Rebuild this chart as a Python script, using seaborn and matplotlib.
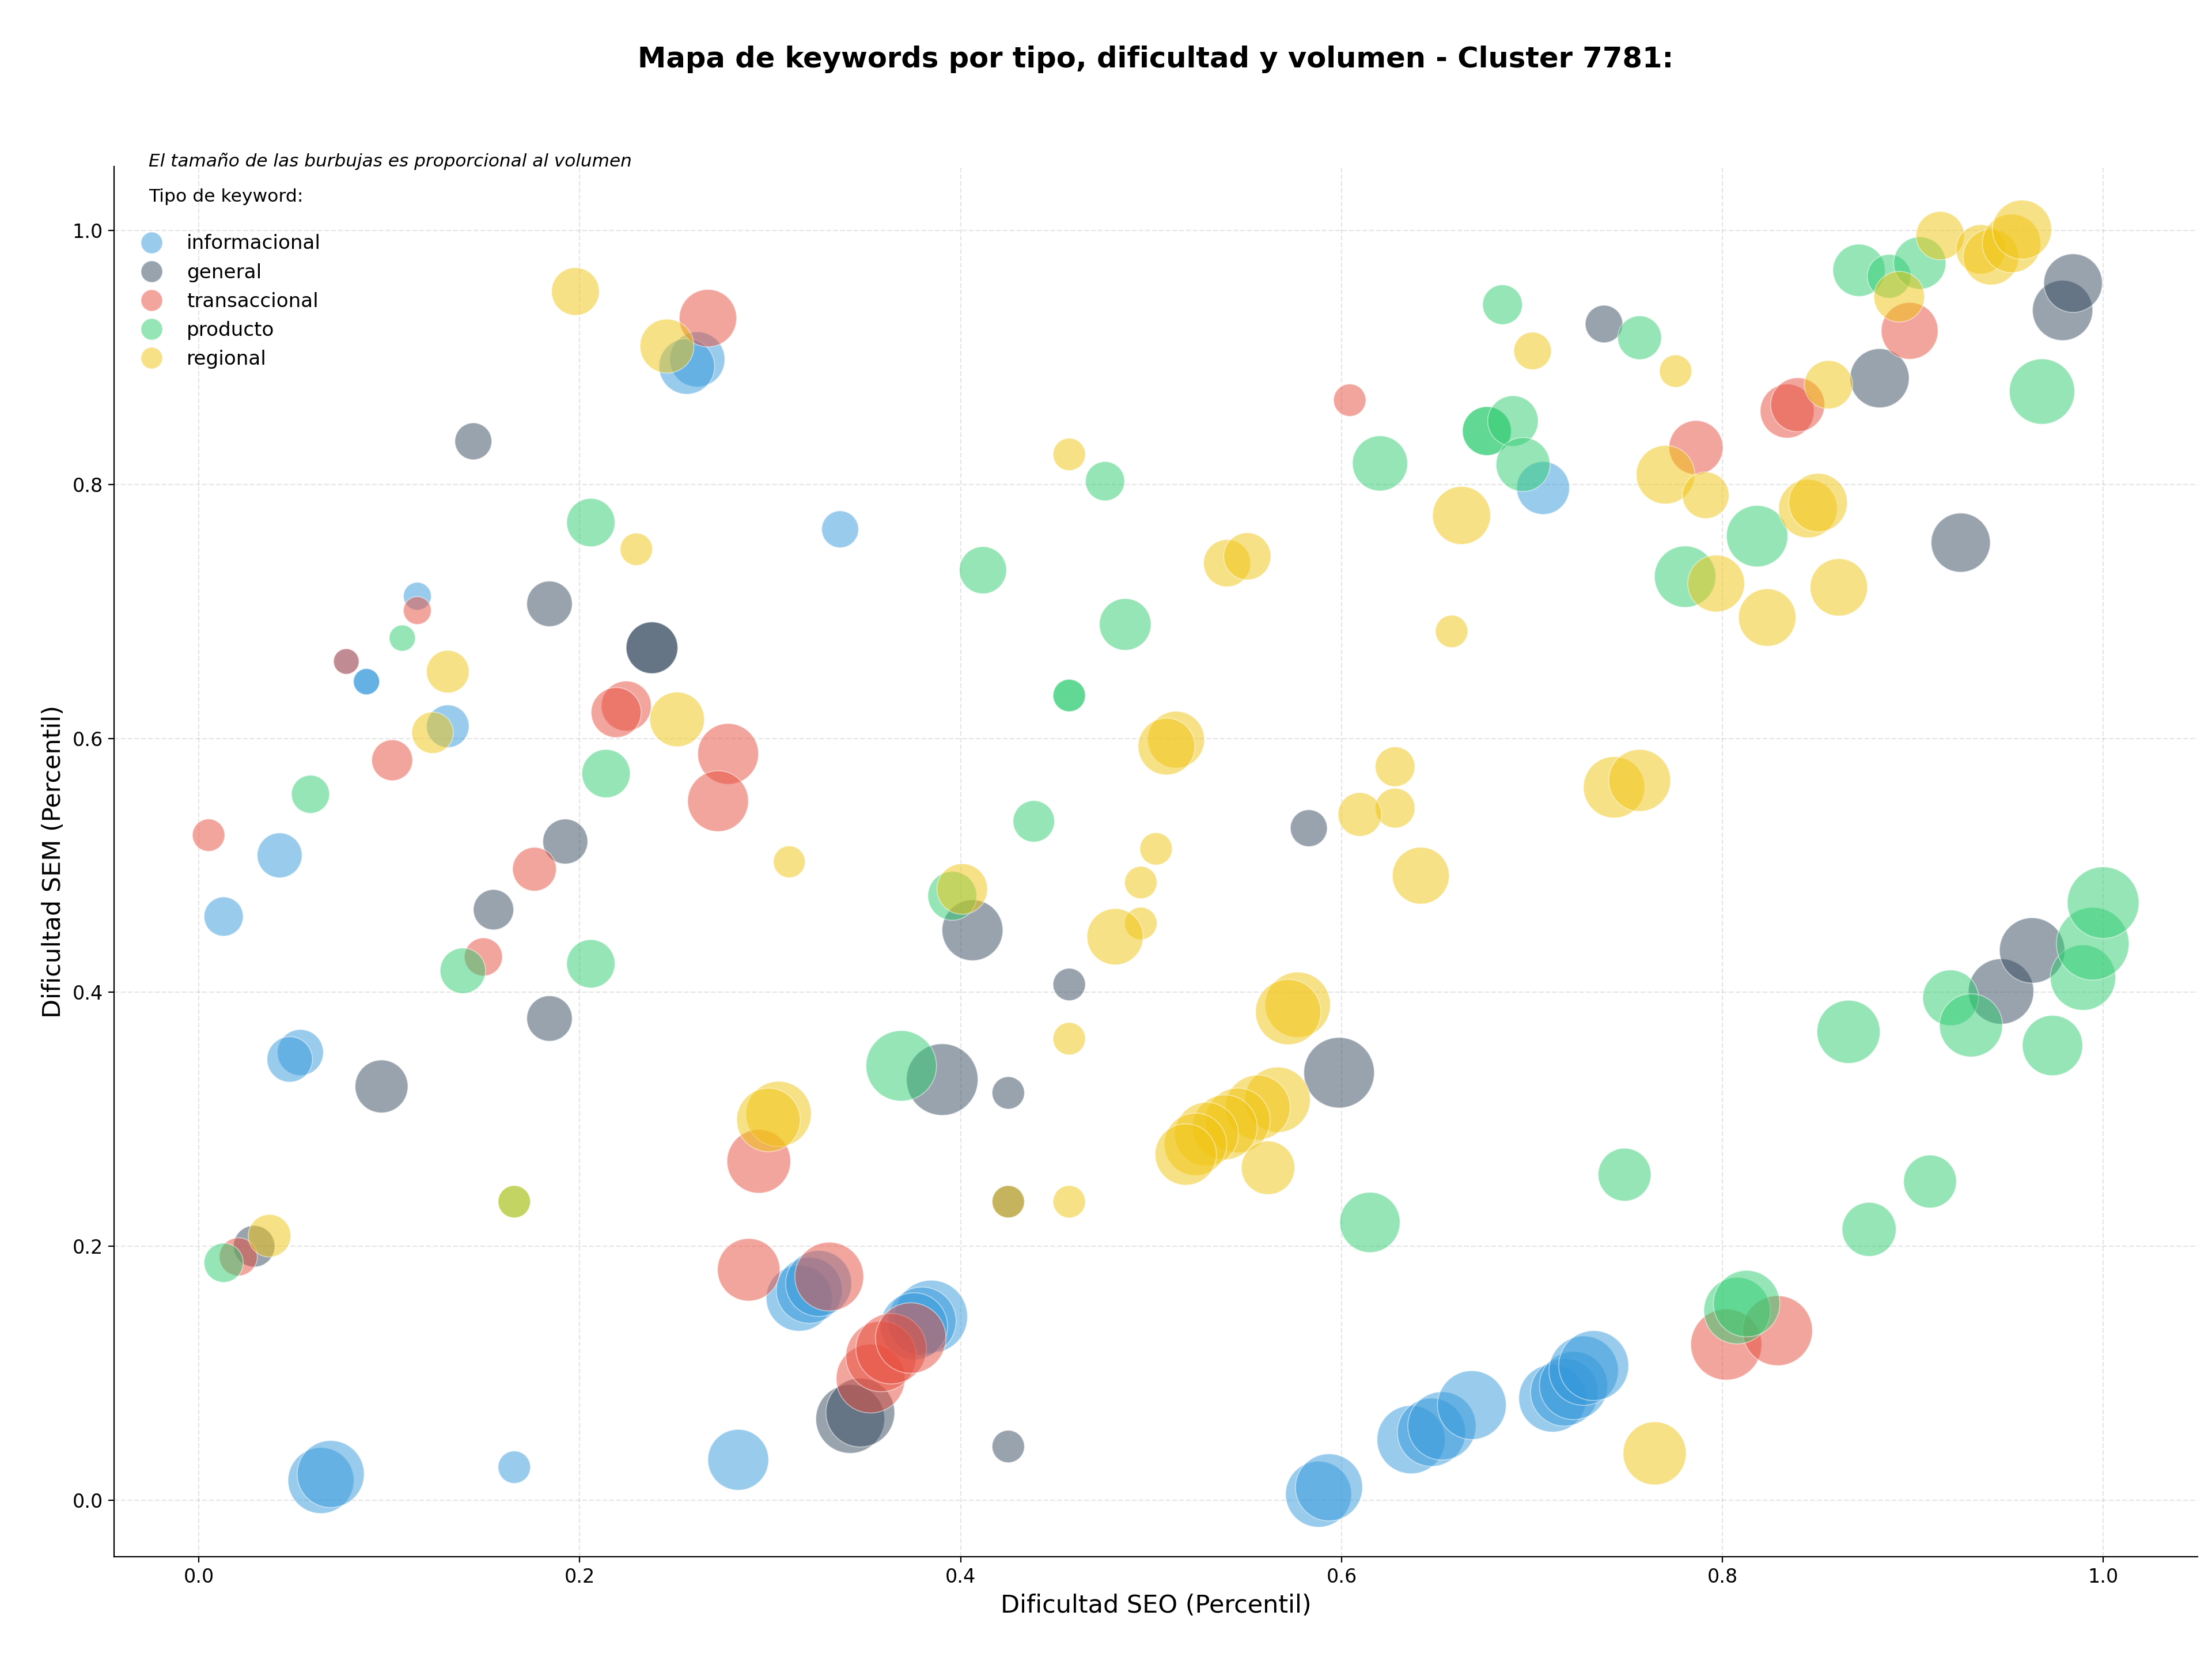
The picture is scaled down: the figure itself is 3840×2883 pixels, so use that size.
import matplotlib
matplotlib.use("Agg")
import matplotlib.pyplot as plt
import seaborn as sns
import pandas as pd
from matplotlib.lines import Line2D

plt.rcParams['font.family'] = ['DejaVu Sans']

# ---------------- data ----------------
tipos = ["informacional", "general", "transaccional", "producto", "regional"]
colores = ["#3498db", "#34495e", "#e74c3c", "#2ecc71", "#f1c40f"]

seo_informacional = [0.2617, 0.2562, 0.1147, 0.088, 0.088, 0.0774, 0.1307, 0.0424, 0.013, 0.0533,
                     0.0477, 0.3152, 0.3205, 0.3254, 0.3845, 0.3797, 0.3755, 0.0641, 0.0692, 0.1656,
                     0.2832, 0.5879, 0.5934, 0.6365, 0.6472, 0.6527, 0.6684, 0.7108, 0.717, 0.7218,
                     0.7271, 0.7324, 0.3367, 0.7058]
sem_informacional = [0.8985, 0.893, 0.712, 0.6447, 0.6447, 0.6606, 0.6096, 0.5079, 0.4597, 0.3526,
                     0.3472, 0.1591, 0.1653, 0.1707, 0.1446, 0.141, 0.137, 0.0155, 0.0206, 0.026,
                     0.0318, 0.0047, 0.0101, 0.0477, 0.0535, 0.0585, 0.0749, 0.0803, 0.085, 0.0903,
                     0.102, 0.106, 0.7647, 0.7972]
vol_informacional = [941, 960, 240, 212, 212, 202, 562, 624, 476, 656,
                     640, 1346, 1346, 1346, 1638, 1440, 1392, 1346, 1392, 325,
                     1145, 1346, 1392, 1440, 1440, 1440, 1464, 1416, 1416, 1440,
                     1488, 1513, 422, 865]

seo_general = [0.1441, 0.1841, 0.2379, 0.2379, 0.1924, 0.1547, 0.1841, 0.0959, 0.029, 0.4062,
               0.457, 0.3903, 0.425, 0.425, 0.342, 0.3473, 0.425, 0.5987, 0.5828, 0.7378,
               0.8825, 0.9251, 0.9786, 0.9841, 0.9463, 0.9626]
sem_general = [0.834, 0.706, 0.6714, 0.6714, 0.5188, 0.4651, 0.3794, 0.3259, 0.200, 0.4489,
               0.4062, 0.3313, 0.3208, 0.2351, 0.064, 0.069, 0.0423, 0.3367, 0.5293, 0.9264,
               0.8837, 0.7542, 0.9371, 0.9586, 0.4007, 0.433]
vol_general = [422, 640, 828, 828, 624, 504, 640, 865, 533, 1145,
               325, 1588, 325, 325, 1464, 1464, 325, 1538, 422, 436,
               1082, 1082, 1124, 1061, 1322, 1322]

seo_transaccional = [0.2673, 0.1147, 0.0774, 0.1015, 0.2244, 0.2191, 0.2779, 0.2726, 0.0051, 0.1762,
                     0.1494, 0.0207, 0.294, 0.2887, 0.331, 0.3527, 0.3582, 0.3635, 0.3738, 0.6043,
                     0.7861, 0.834, 0.8395, 0.8983, 0.802, 0.8289]
sem_transaccional = [0.931, 0.7007, 0.6606, 0.5828, 0.6255, 0.6204, 0.5878, 0.5506, 0.5238, 0.497,
                     0.4279, 0.1917, 0.2669, 0.1815, 0.1761, 0.0958, 0.1132, 0.1193, 0.1277, 0.8664,
                     0.8291, 0.8578, 0.8628, 0.921, 0.1226, 0.1335]
vol_transaccional = [1020, 240, 202, 518, 774, 774, 1145, 1145, 325, 593,
                     449, 449, 1254, 1210, 1464, 1464, 1538, 1538, 1538, 325,
                     902, 902, 902, 1000, 1562, 1513]

seo_producto = [0.2058, 0.1068, 0.2138, 0.0586, 0.1386, 0.2058, 0.1656, 0.013, 0.3956, 0.3688,
                0.6149, 0.6845, 0.6763, 0.6763, 0.690, 0.4758, 0.6202, 0.4117, 0.4864, 0.457,
                0.457, 0.4384, 0.7565, 0.6953, 0.7804, 0.8182, 0.8717, 0.8875, 0.9036, 0.9678,
                0.7486, 0.877, 0.909, 0.8662, 0.9198, 0.9305, 0.9733, 0.9893, 0.9944, 0.9999,
                0.8077, 0.8127]
sem_producto = [0.770, 0.679, 0.5723, 0.556, 0.417, 0.4225, 0.2351, 0.187, 0.476, 0.3421,
                0.2188, 0.9416, 0.8421, 0.8421, 0.85, 0.8026, 0.8166, 0.7325, 0.6898, 0.6338,
                0.6338, 0.5347, 0.9156, 0.8157, 0.7274, 0.7593, 0.9687, 0.964, 0.9744, 0.8732,
                0.2564, 0.2133, 0.251, 0.3689, 0.3957, 0.374, 0.3581, 0.4116, 0.4383, 0.4706,
                0.1493, 0.1548]
vol_producto = [722, 212, 722, 449, 640, 722, 325, 476, 740, 1538,
                1124, 490, 740, 740, 792, 476, 941, 689, 828, 325,
                325, 533, 593, 902, 1166, 1166, 846, 593, 846, 1322,
                865, 902, 865, 1232, 960, 1232, 1124, 1322, 1638, 1588,
                1369, 1369]

seo_regional = [0.1977, 0.2458, 0.2297, 0.1307, 0.1227, 0.2511, 0.310, 0.0371, 0.3044, 0.2991,
                0.1656, 0.4008, 0.4946, 0.4946, 0.4811, 0.5026, 0.457, 0.577, 0.572, 0.5664,
                0.556, 0.5455, 0.5387, 0.5291, 0.5233, 0.5182, 0.5614, 0.425, 0.457, 0.6416,
                0.7644, 0.457, 0.663, 0.5399, 0.5505, 0.6578, 0.5131, 0.5081, 0.6281, 0.6281,
                0.6096, 0.7003, 0.7754, 0.7701, 0.7912, 0.7967, 0.8235, 0.8449, 0.8502, 0.8611,
                0.8557, 0.8928, 0.9143, 0.9356, 0.941, 0.9518, 0.9573, 0.7431, 0.7565]
sem_regional = [0.952, 0.909, 0.749, 0.6526, 0.6045, 0.615, 0.5028, 0.2083, 0.3042, 0.2995,
                0.2351, 0.4814, 0.4865, 0.4543, 0.4438, 0.513, 0.3635, 0.3902, 0.3845, 0.3154,
                0.3093, 0.2991, 0.2937, 0.2883, 0.2803, 0.2723, 0.2618, 0.2351, 0.2351, 0.4919,
                0.0369, 0.8237, 0.7756, 0.738, 0.7434, 0.6843, 0.599, 0.5936, 0.5777, 0.5451,
                0.5401, 0.9052, 0.8893, 0.8077, 0.7915, 0.722, 0.6952, 0.781, 0.7857, 0.719,
                0.8786, 0.9479, 0.996, 0.9852, 0.9791, 0.9899, 1.0007, 0.5615, 0.5669]
vol_regional = [706, 902, 325, 562, 533, 922, 314, 562, 1322, 1254,
                325, 792, 325, 325, 980, 325, 325, 1322, 1322, 1322,
                1300, 1300, 1300, 1254, 1210, 1166, 884, 325, 325, 1000,
                1232, 325, 1040, 689, 689, 325, 1000, 1000, 490, 490,
                593, 436, 325, 1061, 672, 1000, 1020, 1061, 1061, 1020,
                722, 792, 722, 756, 960, 1061, 1082, 1166, 1188]

titulo = "Mapa de keywords por tipo, dificultad y volumen - Cluster 7781:"
nota = "El tamaño de las burbujas es proporcional al volumen"

# ---------------- build table ----------------
series = [
    ("informacional", seo_informacional, sem_informacional, vol_informacional),
    ("general", seo_general, sem_general, vol_general),
    ("transaccional", seo_transaccional, sem_transaccional, vol_transaccional),
    ("producto", seo_producto, sem_producto, vol_producto),
    ("regional", seo_regional, sem_regional, vol_regional),
]
frames = [pd.DataFrame({"seo": s, "sem": m, "volumen": v, "tipo": t}) for t, s, m, v in series]
df = pd.concat(frames, ignore_index=True)
palette = dict(zip(tipos, colores))

# ---------------- figure ----------------
fig = plt.figure(figsize=(19.2, 14.415), dpi=200)
ax = fig.add_axes([0.0516, 0.0628, 0.9419, 0.837])
ax.set_axisbelow(True)

sns.scatterplot(data=df, x="seo", y="sem", hue="tipo", hue_order=tipos, palette=palette,
                size="volumen", sizes=(0, 2520), size_norm=(0, 2000),
                alpha=0.5, edgecolor="white", linewidth=0.6, legend=False, ax=ax)

ax.set_xlim(-0.0445, 1.0495)
ax.set_ylim(-0.0445, 1.0505)
ax.set_xticks([0.0, 0.2, 0.4, 0.6, 0.8, 1.0])
ax.set_yticks([0.0, 0.2, 0.4, 0.6, 0.8, 1.0])
ax.tick_params(labelsize=12)
ax.grid(True, linestyle="--", linewidth=0.8, color="#b0b0b0", alpha=0.33)
sns.despine(ax=ax)

ax.set_xlabel("Dificultad SEO (Percentil)", fontsize=15.5)
ax.set_ylabel("Dificultad SEM (Percentil)", fontsize=15.5)
ax.set_title(titulo, fontsize=17.85, fontweight="bold", pad=62)

ax.text(0.0166, 1.0, nota, transform=ax.transAxes, fontsize=11.2, style="italic", va="baseline")

handles = [Line2D([0], [0], marker="o", linestyle="", markersize=13.5,
                  markerfacecolor=c, markeredgecolor="white", markeredgewidth=0.6, alpha=0.5)
           for c in colores]
ax.legend(handles, tipos, loc="upper left", bbox_to_anchor=(-0.0021, 1.0), frameon=False,
          fontsize=12.3, title="Tipo de keyword:\n", title_fontsize=11.3, borderpad=0.61)

fig.savefig("out.png", dpi=200)
